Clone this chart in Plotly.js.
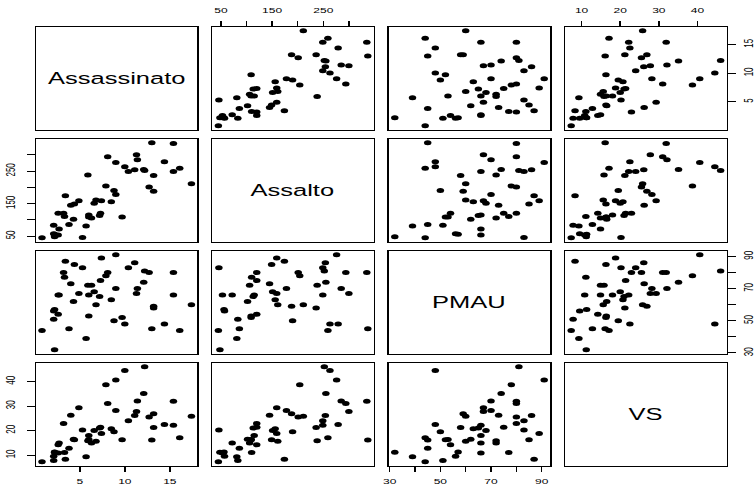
<!DOCTYPE html>
<html>
<head>
<meta charset="utf-8">
<script src="https://cdn.plot.ly/plotly-3.0.1.min.js"></script>
<style>
html,body{margin:0;padding:0;background:#fff;overflow:hidden;width:756px;height:486px;}
#plot{width:504px;height:486px;transform:scaleX(1.5);transform-origin:0 0;}
</style>
</head>
<body>
<div id="plot"></div>
<script>
// USArrests-style data (Italian labels)
const labels = ["Assassinato", "Assalto", "PMAU", "VS"];
const Assassinato = [13.2,10.0,8.1,8.8,9.0,7.9,3.3,5.9,15.4,17.4,5.3,2.6,10.4,7.2,2.2,6.0,9.7,15.4,2.1,11.3,4.4,12.1,2.7,16.1,9.0,6.0,4.3,12.2,2.1,7.4,11.4,11.1,13.0,0.8,7.3,6.6,4.9,6.3,3.4,14.4,3.8,13.2,12.7,3.2,2.2,8.5,4.0,5.7,2.6,6.8];
const Assalto = [236,263,294,190,276,204,110,238,335,211,46,120,249,113,56,115,109,249,83,300,149,255,72,259,178,109,102,252,57,159,285,254,337,45,120,151,159,106,174,279,86,188,201,120,48,156,145,81,53,161];
const PMAU = [58,48,80,50,91,78,77,72,80,60,83,54,83,65,57,66,52,66,51,67,85,74,66,44,70,53,62,81,56,89,70,86,45,44,75,68,67,72,87,48,45,59,80,80,32,63,73,39,66,60];
const VS = [21.2,44.5,31.0,19.5,40.6,38.7,11.1,15.8,31.9,25.8,20.2,14.2,24.0,21.0,11.3,18.0,16.3,22.2,7.8,27.8,16.3,35.1,14.9,17.1,28.2,16.4,16.5,46.0,9.5,18.8,32.1,26.1,16.1,7.3,21.4,20.0,29.3,14.9,8.3,22.5,12.8,26.9,25.5,22.9,11.2,20.7,26.2,9.3,10.8,15.6];

// tick values and labels
const tickVals = [[5,10,15],[50,100,150,200,250,300],[30,40,50,60,70,80,90],[10,20,30,40]];
const tickText = [["5","10","15"],["50","","150","","250",""],["30","","50","","70","","90"],["10","20","30","40"]];

const vars = [Assassinato, Assalto, PMAU, VS];
const ranges = vars.map(v => {
  const lo = Math.min(...v), hi = Math.max(...v), e = (hi - lo) * 0.04;
  return [lo - e, hi + e];
});

const W = 504, H = 486;
const colL = [24, 141.6, 259.2, 376.8], pw = 107.6;
const rowT = [27, 139, 251, 363], ph = 102.5;
const FONT = "Liberation Sans, Arial, Helvetica, sans-serif";

const data = [];
const layout = {
  width: W, height: H,
  margin: {l:0, r:0, t:0, b:0},
  paper_bgcolor: "#fff", plot_bgcolor: "#fff",
  showlegend: false,
  font: {family: FONT, color: "#000", size: 8},
  annotations: []
};

for (let i = 0; i < 4; i++) {
  for (let j = 0; j < 4; j++) {
    const k = i * 4 + j + 1;
    const xs = k === 1 ? "" : String(k);
    const xid = "x" + xs, yid = "y" + xs;
    // which axes carry ticks (R pairs convention)
    const topAx = (i === 0 && j % 2 === 1 && i !== j);
    const botAx = (i === 3 && j % 2 === 0 && i !== j);
    const leftAx = (j === 0 && i % 2 === 1 && i !== j);
    const rightAx = (j === 3 && i % 2 === 0 && i !== j);
    const xa = {
      domain: [colL[j] / W, (colL[j] + pw) / W],
      range: ranges[j], anchor: yid,
      showline: true, mirror: true, linecolor: "#000", linewidth: 1,
      showgrid: false, zeroline: false,
      ticks: (topAx || botAx) ? "outside" : "", ticklen: 5, tickcolor: "#000", tickwidth: 1,
      showticklabels: topAx || botAx, side: topAx ? "top" : "bottom",
      tickmode: "array", tickvals: tickVals[j], ticktext: tickText[j],
      tickfont: {family: FONT, size: 8, color: "#000"}, ticklabelstandoff: topAx ? 5 : 3,
      fixedrange: true
    };
    const ya = {
      domain: [1 - (rowT[i] + ph) / H, 1 - rowT[i] / H],
      range: ranges[i], anchor: xid,
      showline: true, mirror: true, linecolor: "#000", linewidth: 1,
      showgrid: false, zeroline: false,
      ticks: (leftAx || rightAx) ? "outside" : "", ticklen: 5, tickcolor: "#000", tickwidth: 1,
      showticklabels: leftAx || rightAx, side: rightAx ? "right" : "left",
      tickmode: "array", tickvals: tickVals[i], ticktext: tickText[i], tickangle: -90,
      tickfont: {family: FONT, size: 8, color: "#000"}, ticklabelstandoff: rightAx ? 2 : 5,
      fixedrange: true
    };
    layout["xaxis" + xs] = xa;
    layout["yaxis" + xs] = ya;
    if (i === j) {
      data.push({type: "scatter", mode: "markers", x: [], y: [], xaxis: xid, yaxis: yid, hoverinfo: "skip"});
      layout.annotations.push({
        xref: xid + " domain", yref: yid + " domain", x: 0.5, y: 0.5,
        text: labels[i], showarrow: false,
        font: {family: FONT, size: 17, color: "#000"}
      });
    } else {
      data.push({
        type: "scatter", mode: "markers",
        x: vars[j], y: vars[i], xaxis: xid, yaxis: yid,
        marker: {color: "#000", size: 5, line: {width: 0}},
        hoverinfo: "skip", cliponaxis: false
      });
    }
  }
}

Plotly.newPlot("plot", data, layout, {staticPlot: true, displayModeBar: false});
</script>
</body>
</html>
